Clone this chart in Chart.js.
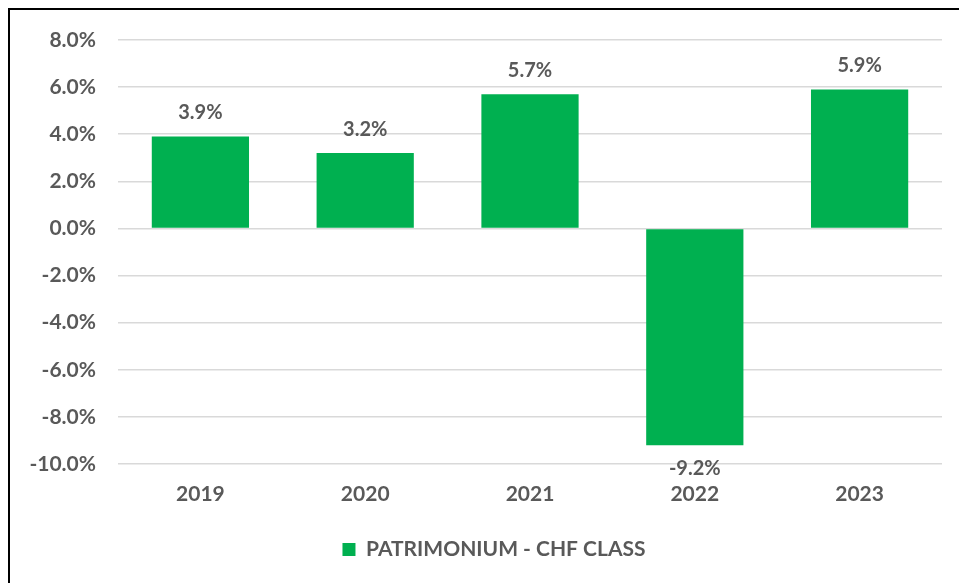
<!DOCTYPE html>
<html>
<head>
<meta charset="utf-8">
<script src="https://cdn.jsdelivr.net/npm/chart.js@4"></script>
<style>
  body { margin: 0; background: #fff; overflow: hidden; }
  .frame { position: absolute; left: 8px; top: 8px; width: 1000px; height: 1000px;
    border-left: 2px solid #000; border-top: 2px solid #000; }
  #myChart { position: absolute; left: 0; top: 0; }
</style>
</head>
<body>
<div class="frame"></div>
<canvas id="myChart" width="959" height="583"></canvas>
<script>
const years = ['2019', '2020', '2021', '2022', '2023'];
const returns = [3.9, 3.2, 5.7, -9.2, 5.9];
const seriesName = 'PATRIMONIUM - CHF CLASS';
const yMin = -10;
const yMax = 8;
const yStep = 2;

const grey = '#595959';
const green = '#00B050';
const font = 'Lato, "Open Sans", sans-serif';

// values above/below bar ends
const barLabels = {
  id: 'barLabels',
  afterDatasetsDraw(chart) {
    const ctx = chart.ctx;
    const meta = chart.getDatasetMeta(0);
    ctx.save();
    ctx.font = 'bold 20px ' + font;
    ctx.fillStyle = grey;
    ctx.textAlign = 'center';
    ctx.textBaseline = 'middle';
    meta.data.forEach((bar, i) => {
      const v = returns[i];
      const y = v >= 0 ? bar.y - 24 : bar.y + 23;
      ctx.fillText(v.toFixed(1) + '%', bar.x, y);
    });
    ctx.restore();
  }
};

// the original frame is wider than the picture, so its legend sits a bit right of centre
const legendShift = {
  id: 'legendShift',
  afterLayout(chart) {
    if (chart.legend) chart.legend.left += 46;
  }
};

function makeChart() {
  const ctx = document.getElementById('myChart');
  return new Chart(ctx, {
    type: 'bar',
    data: {
      labels: years,
      datasets: [{
        label: seriesName,
        data: returns,
        backgroundColor: green,
        borderWidth: 0,
        barPercentage: 0.59,
        categoryPercentage: 1
      }]
    },
    options: {
      responsive: false,
      animation: false,
      layout: { padding: { top: 40, right: 17, left: 0, bottom: 13 } },
      scales: {
        y: {
          min: yMin,
          max: yMax,
          afterFit: (scale) => { scale.width = 118; },
          ticks: {
            stepSize: yStep,
            padding: 22,
            color: grey,
            font: { family: font, size: 21, weight: 'bold' },
            callback: (v) => v.toFixed(1) + '%'
          },
          grid: { color: '#d9d9d9', lineWidth: 1.5, drawTicks: false },
          border: { display: false }
        },
        x: {
          afterFit: (scale) => { scale.height = 55; },
          ticks: {
            padding: 18,
            color: grey,
            font: { family: font, size: 21, weight: 'bold' }
          },
          grid: { display: false, drawTicks: false },
          border: { display: false }
        }
      },
      plugins: {
        legend: {
          position: 'bottom',
          labels: {
            color: grey,
            boxWidth: 13,
            boxHeight: 13,
            padding: 20,
            font: { family: font, size: 21, weight: 'bold' }
          }
        },
        tooltip: { enabled: false }
      }
    },
    plugins: [barLabels, legendShift]
  });
}

document.addEventListener('DOMContentLoaded', () => makeChart());
</script>
</body>
</html>
